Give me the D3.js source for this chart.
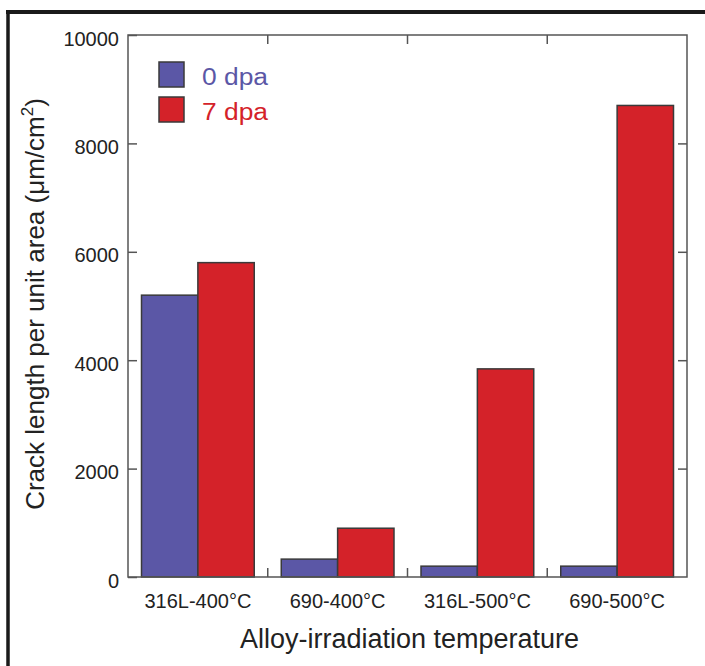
<!DOCTYPE html>
<html>
<head>
<meta charset="utf-8">
<script src="https://cdn.jsdelivr.net/npm/d3@7/dist/d3.min.js"></script>
<style>
  html, body { margin: 0; padding: 0; background: #fff; }
  svg { display: block; font-family: "Liberation Sans", Arial, Helvetica, sans-serif; }
</style>
</head>
<body>
<svg id="chart" width="705" height="666"></svg>
<script>
const categories = ["316L-400°C", "690-400°C", "316L-500°C", "690-500°C"];
const seriesNames = ["0 dpa", "7 dpa"];
const values0dpa = [5200, 330, 200, 200];
const values7dpa = [5800, 900, 3840, 8700];
const yTicks = [0, 2000, 4000, 6000, 8000, 10000];
const colors = ["#5b57a6", "#d42229"];

const svg = d3.select("#chart");
const W = 705, H = 666;
const m = { left: 128, right: 687, top: 35, bottom: 577 };

// outer frame
svg.append("line").attr("x1", 6).attr("x2", W).attr("y1", 12).attr("y2", 12)
  .attr("stroke", "#1a1a1a").attr("stroke-width", 4);
svg.append("line").attr("x1", 8).attr("x2", 8).attr("y1", 10).attr("y2", H)
  .attr("stroke", "#1a1a1a").attr("stroke-width", 3.5);

const x = d3.scaleBand().domain(categories).range([m.left, m.right]).padding(0);
const xs = d3.scaleBand().domain(seriesNames).range([13.5, x.bandwidth() - 13.5]).padding(0);
const y = d3.scaleLinear().domain([0, 10000]).range([m.bottom, m.top]);

const data = categories.map((c, i) => ({ cat: c, vals: [values0dpa[i], values7dpa[i]] }));

// bars
const g = svg.append("g");
data.forEach(d => {
  d.vals.forEach((v, j) => {
    g.append("rect")
      .attr("x", x(d.cat) + xs(seriesNames[j]))
      .attr("y", y(v))
      .attr("width", xs.bandwidth())
      .attr("height", y(0) - y(v))
      .attr("fill", colors[j])
      .attr("stroke", "#3a3a3a")
      .attr("stroke-width", 1.5);
  });
});

const axisColor = "#555";
const textColor = "#222";

// left axis
const yAxis = d3.axisLeft(y).tickValues(yTicks).tickFormat(d3.format("d"))
  .tickSize(-9).tickPadding(9).tickSizeOuter(0);
const ga = svg.append("g").attr("transform", `translate(${m.left},0)`).call(yAxis);
ga.select(".domain").remove();
ga.selectAll(".tick line").attr("stroke", axisColor).attr("stroke-width", 1.5);
ga.selectAll(".tick text").attr("font-size", 20).attr("fill", textColor)
  .attr("font-family", "'Liberation Sans', Arial, sans-serif").attr("dy", "0.5em");

// right axis ticks
const yAxisR = d3.axisRight(y).tickValues(yTicks.slice(1, -1)).tickSize(-9).tickFormat("").tickSizeOuter(0);
const gr = svg.append("g").attr("transform", `translate(${m.right},0)`).call(yAxisR);
gr.select(".domain").remove();
gr.selectAll(".tick line").attr("stroke", axisColor).attr("stroke-width", 1.5);

// bottom axis
const xb = d3.axisBottom(x).tickSize(0).tickPadding(17).tickSizeOuter(0);
const gb = svg.append("g").attr("transform", `translate(0,${m.bottom})`).call(xb);
gb.select(".domain").remove();
gb.selectAll(".tick text").attr("font-size", 20).attr("fill", textColor)
  .attr("font-family", "'Liberation Sans', Arial, sans-serif");

// category boundary ticks (top & bottom)
const bounds = categories.slice(1).map(c => x(c));
bounds.forEach(bx => {
  svg.append("line").attr("x1", bx).attr("x2", bx).attr("y1", m.bottom).attr("y2", m.bottom - 9)
    .attr("stroke", axisColor).attr("stroke-width", 1.5);
  svg.append("line").attr("x1", bx).attr("x2", bx).attr("y1", m.top).attr("y2", m.top + 9)
    .attr("stroke", axisColor).attr("stroke-width", 1.5);
});

// frame of plot
svg.append("rect").attr("x", m.left).attr("y", m.top)
  .attr("width", m.right - m.left).attr("height", m.bottom - m.top)
  .attr("fill", "none").attr("stroke", axisColor).attr("stroke-width", 1.5);

// legend
seriesNames.forEach((s, j) => {
  const ly = 62 + j * 35;
  svg.append("rect").attr("x", 159).attr("y", ly).attr("width", 25).attr("height", 25)
    .attr("fill", colors[j]).attr("stroke", "#3a3a3a").attr("stroke-width", 1.5);
  svg.append("text").attr("x", 202).attr("y", ly + 23)
    .attr("font-size", 23).attr("fill", colors[j])
    .attr("textLength", 66).attr("lengthAdjust", "spacingAndGlyphs")
    .text(s);
});

// axis titles
svg.append("text").attr("x", (m.left + m.right) / 2 + 2).attr("y", 648)
  .attr("text-anchor", "middle").attr("font-size", 27).attr("fill", textColor)
  .text("Alloy-irradiation temperature");

const yl = svg.append("text").attr("transform", `translate(44,${(m.top + m.bottom) / 2 - 2}) rotate(-90)`)
  .attr("text-anchor", "middle").attr("font-size", 26).attr("fill", textColor);
yl.append("tspan").text("Crack length per unit area (μm/cm");
yl.append("tspan").attr("font-size", 17).attr("dy", -11).text("2");
yl.append("tspan").attr("dy", 11).text(")");
</script>
</body>
</html>
